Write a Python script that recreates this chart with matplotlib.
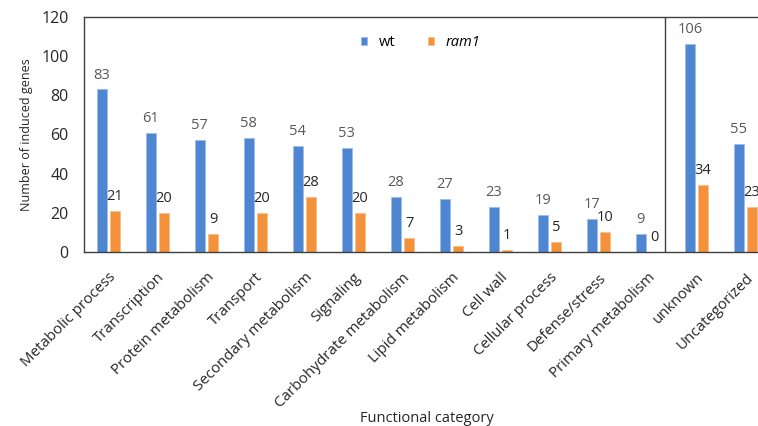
import numpy as np
import matplotlib
matplotlib.use("Agg")
import matplotlib.pyplot as plt

categories = ["Metabolic process", "Transcription", "Protein metabolism", "Transport",
              "Secondary metabolism", "Signaling", "Carbohydrate metabolism",
              "Lipid metabolism", "Cell wall", "Cellular process", "Defense/stress",
              "Primary metabolism", "unknown", "Uncategorized"]
wt = [83, 61, 57, 58, 54, 53, 28, 27, 23, 19, 17, 9, 106, 55]
ram1 = [21, 20, 9, 20, 28, 20, 7, 3, 1, 5, 10, 0, 34, 23]
yticks = [0, 20, 40, 60, 80, 100, 120]

_BLUE = "#4E86D2"
_ORANGE = "#F3923A"
_FONT = "Open Sans"

plt.rcParams["font.family"] = [_FONT, "DejaVu Sans"]

fig = plt.figure(figsize=(7.58, 4.26), dpi=100)
ax = fig.add_axes([84 / 758, 174 / 426, 686 / 758, 235 / 426])

x = np.arange(len(categories))
w = 0.21
off = 0.135
ax.bar(x - off, wt, w, color=_BLUE, edgecolor="#9DBDEA", linewidth=0.6, label="wt")
ax.bar(x + off, ram1, w, color=_ORANGE, edgecolor="#F8C08A", linewidth=0.6, label="ram1")

for xi, v in zip(x, wt):
    ax.annotate(str(v), (xi - off, v), xytext=(0, 5), textcoords="offset points",
                ha="center", va="bottom", fontsize=10.5, color="#595959")
for xi, v in zip(x, ram1):
    ax.annotate(str(v), (xi + off, v), xytext=(0, 5), textcoords="offset points",
                ha="center", va="bottom", fontsize=10.5, color="#262626")

ax.set_xlim(-0.5, len(categories) - 0.5)
ax.set_ylim(0, 120)
ax.set_yticks(yticks)
ax.tick_params(axis="y", length=0, pad=11, labelsize=11.5, labelcolor="#262626")
ax.set_xticks(x)
ax.set_xticklabels(categories, rotation=45, ha="right", va="top",
                   rotation_mode="anchor", fontsize=10.8, color="#262626")
ax.tick_params(axis="x", length=0, pad=13)

for s in ax.spines.values():
    s.set_color("#404040")
    s.set_linewidth(1.0)

# divider between categorized and unknown groups
ax.axvline(11.36, color="#404040", linewidth=1.0)

ax.set_ylabel("Number of induced genes", fontsize=9, color="#262626", labelpad=6)
ax.set_xlabel("Functional category", fontsize=10.5, color="#262626", labelpad=0)

leg = ax.legend(loc="upper center", bbox_to_anchor=(0.491, 0.98), ncol=2, frameon=False,
                fontsize=10.5, handlelength=0.45, handleheight=0.45, columnspacing=2.2,
                handletextpad=0.8)
leg.get_texts()[1].set_fontstyle("italic")

fig.savefig("out.png", dpi=100)
